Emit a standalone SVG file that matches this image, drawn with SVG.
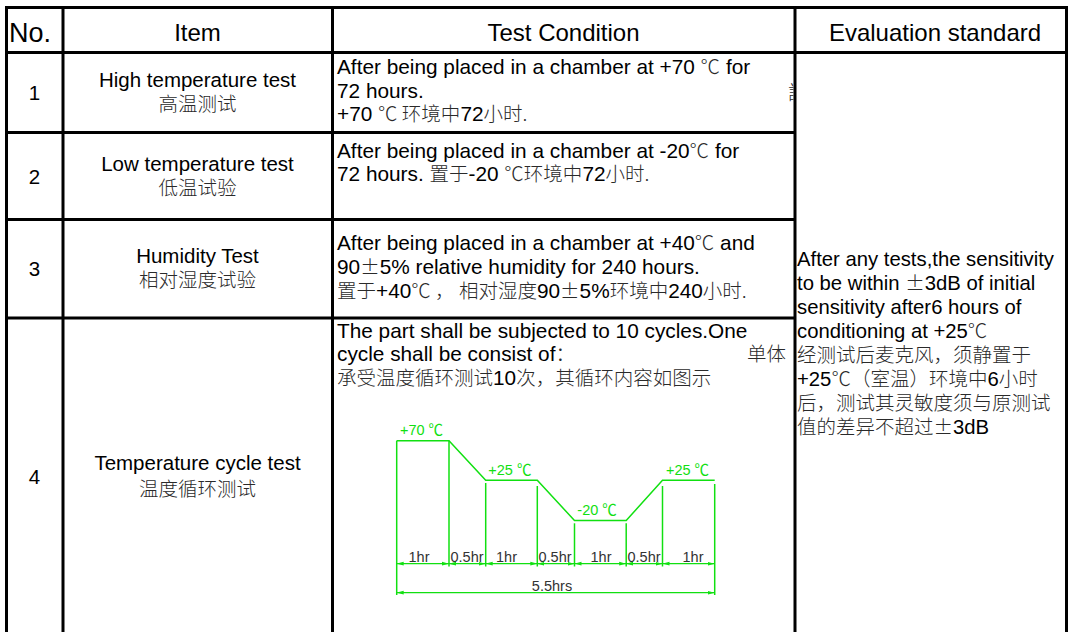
<svg xmlns="http://www.w3.org/2000/svg" width="1073" height="632" viewBox="0 0 1073 632">
<style>
text{font-family:"Liberation Sans","Noto Sans CJK SC",sans-serif;fill:#000}
.h{font-size:24px;text-anchor:middle}
.num{font-size:20.5px;text-anchor:middle}
.it{font-size:20.5px;text-anchor:middle}
.b{font-size:20.8px}
.e{font-size:20.3px}
.cn{font-family:"Noto Sans CJK SC",sans-serif;font-size:19.5px;font-weight:300;fill:#2a2a2a}
.grid line{stroke:#000;stroke-width:3}
.g{stroke:#11e011;stroke-width:1.5;fill:none}
.dl{stroke:#11e011;stroke-width:1.3;fill:none;marker-start:url(#arr);marker-end:url(#arr)}
.gl{font-size:14.5px;fill:#11e011}
.d{font-size:14.5px;fill:#333;text-anchor:middle}
</style>
<defs>
<marker id="arr" viewBox="0 0 7 5" refX="7" refY="2.5" markerWidth="7" markerHeight="5" markerUnits="userSpaceOnUse" orient="auto-start-reverse"><path d="M0,0.6 L7,2.5 L0,4.4z" fill="#11e011"/></marker>
<clipPath id="clipStray"><rect x="786" y="80" width="7.5" height="26"/></clipPath>
</defs>
<rect width="1073" height="632" fill="#fff"/>

<g id="grid" class="grid">
<line x1="5" y1="7.5" x2="1068" y2="7.5"/>
<line x1="6.5" y1="6" x2="6.5" y2="632"/>
<line x1="1066.5" y1="6" x2="1066.5" y2="632"/>
<line x1="63" y1="6" x2="63" y2="632"/>
<line x1="332.5" y1="6" x2="332.5" y2="632"/>
<line x1="795" y1="6" x2="795" y2="632"/>
<line x1="5" y1="52.5" x2="1068" y2="52.5"/>
<line x1="5" y1="132.5" x2="795" y2="132.5"/>
<line x1="5" y1="219.5" x2="795" y2="219.5"/>
<line x1="5" y1="318" x2="795" y2="318"/>
</g>

<g id="header">
<text x="9" y="41.5" style="font-size:27px">No.</text>
<text class="h" x="197.5" y="41">Item</text>
<text class="h" x="563.5" y="41">Test Condition</text>
<text class="h" x="935" y="41">Evaluation standard</text>
</g>

<g id="row1">
<text class="num" x="34.5" y="99.5">1</text>
<text class="it" x="197.5" y="87">High temperature test</text>
<text class="it cn" x="197.5" y="110.5">高温测试</text>
<text class="b" x="337" y="74">After being placed in a chamber at +70 <tspan class="cn">℃</tspan> for</text>
<text class="b" x="337" y="97.5">72 hours.</text>
<text class="b" x="337" y="120.5">+70 <tspan class="cn">℃ 环境中</tspan>72<tspan class="cn">小时.</tspan></text>
<text class="cn" x="788" y="100" clip-path="url(#clipStray)">試</text>
</g>

<g id="row2">
<text class="num" x="34.5" y="183.5">2</text>
<text class="it" x="197.5" y="171">Low temperature test</text>
<text class="it cn" x="197.5" y="194.5">低温试验</text>
<text class="b" x="337" y="158">After being placed in a chamber at -20<tspan class="cn">℃</tspan> for</text>
<text class="b" x="337" y="181">72 hours. <tspan class="cn">置于</tspan>-20 <tspan class="cn">℃环境中</tspan>72<tspan class="cn">小时.</tspan></text>
</g>

<g id="row3">
<text class="num" x="34.5" y="276">3</text>
<text class="it" x="197.5" y="263">Humidity Test</text>
<text class="it cn" x="197.5" y="287">相对湿度试验</text>
<text class="b" x="337" y="250">After being placed in a chamber at +40<tspan class="cn">℃</tspan> and</text>
<text class="b" x="337" y="274">90<tspan class="cn">±</tspan>5% relative humidity for 240 hours.</text>
<text class="b" x="337" y="297.5"><tspan class="cn">置于</tspan>+40<tspan class="cn">℃ ， 相对湿度</tspan>90<tspan class="cn">±</tspan>5%<tspan class="cn">环境中</tspan>240<tspan class="cn">小时.</tspan></text>
</g>

<g id="row4">
<text class="num" x="34.5" y="484">4</text>
<text class="it" x="197.5" y="470">Temperature cycle test</text>
<text class="it cn" x="197.5" y="495.5">温度循环测试</text>
<text class="b" x="337" y="338">The part shall be subjected to 10 cycles.One</text>
<text class="b" x="337" y="361">cycle shall be consist of<tspan class="cn">：</tspan></text>
<text class="cn" x="747" y="361">单体</text>
<text class="b" x="337" y="385"><tspan class="cn">承受温度循环测试</tspan>10<tspan class="cn">次，其循环内容如图示</tspan></text>
</g>

<g id="evaluation">
<text class="e" x="797" y="266">After any tests,the sensitivity</text>
<text class="e" x="797" y="290">to be within <tspan class="cn">±</tspan>3dB of initial</text>
<text class="e" x="797" y="314">sensitivity after6 hours of</text>
<text class="e" x="797" y="338">conditioning at +25<tspan class="cn">℃</tspan></text>
<text class="e cn" x="797" y="362">经测试后麦克风，须静置于</text>
<text class="e" x="797" y="386">+25<tspan class="cn">℃（室温）环境中</tspan>6<tspan class="cn">小时</tspan></text>
<text class="e cn" x="797" y="410">后，测试其灵敏度须与原测试</text>
<text class="e" x="797" y="434"><tspan class="cn">值的差异不超过±</tspan>3dB</text>
</g>

<g id="chart">
<polyline class="g" points="396.7,440.7 449,440.7 485.7,480.3 537.3,480.3 574.5,520.5 626.2,520.5 662.5,480.3 714.7,480.3"/>
<line class="g" x1="396.7" y1="440.7" x2="396.7" y2="595"/>
<line class="g" x1="449" y1="440.7" x2="449" y2="566.5"/>
<line class="g" x1="485.7" y1="483" x2="485.7" y2="566.5"/>
<line class="g" x1="537.3" y1="486" x2="537.3" y2="566.5"/>
<line class="g" x1="574.5" y1="523.3" x2="574.5" y2="566.5"/>
<line class="g" x1="626.2" y1="523.3" x2="626.2" y2="566.5"/>
<line class="g" x1="662.5" y1="486" x2="662.5" y2="566.5"/>
<line class="g" x1="714.7" y1="484" x2="714.7" y2="595"/>
<g id="dimensions">
<line class="dl" x1="396.7" y1="563.7" x2="449" y2="563.7"/>
<line class="dl" x1="449" y1="563.7" x2="485.7" y2="563.7"/>
<line class="dl" x1="485.7" y1="563.7" x2="537.3" y2="563.7"/>
<line class="dl" x1="537.3" y1="563.7" x2="574.5" y2="563.7"/>
<line class="dl" x1="574.5" y1="563.7" x2="626.2" y2="563.7"/>
<line class="dl" x1="626.2" y1="563.7" x2="662.5" y2="563.7"/>
<line class="dl" x1="662.5" y1="563.7" x2="714.7" y2="563.7"/>
<line class="dl" x1="396.7" y1="592.7" x2="714.7" y2="592.7"/>
</g>
<text class="gl" x="400" y="435">+70 ℃</text>
<text class="gl" x="488.3" y="475">+25 ℃</text>
<text class="gl" x="577.3" y="515">-20 ℃</text>
<text class="gl" x="666" y="475">+25 ℃</text>
<text class="d" x="419" y="561.5">1hr</text>
<text class="d" x="467" y="561.5">0.5hr</text>
<text class="d" x="506.5" y="561.5">1hr</text>
<text class="d" x="555" y="561.5">0.5hr</text>
<text class="d" x="601" y="561.5">1hr</text>
<text class="d" x="644" y="561.5">0.5hr</text>
<text class="d" x="693" y="561.5">1hr</text>
<text class="d" x="552" y="590.5">5.5hrs</text>
</g>
</svg>
